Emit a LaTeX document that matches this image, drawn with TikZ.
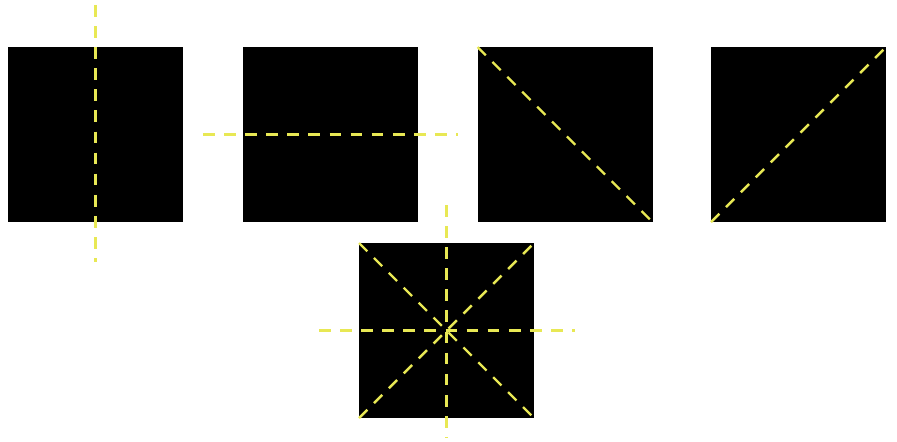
\documentclass[tikz,border=0pt]{standalone}
\usetikzlibrary{calc}
\definecolor{foldline}{RGB}{232,232,84}
\tikzset{
  tile/.style={fill=black,minimum size=5.25cm,inner sep=0pt,outer sep=0pt},
  fold/.style={draw=foldline,line width=2.1pt,dash pattern=on 10pt off 8pt},
}
\begin{document}
\begin{tikzpicture}[x=0.03cm,y=-0.03cm]
  \useasboundingbox (0,0) rectangle (897,441);
  % the five squares
  \foreach \n/\x/\y in {vsq/95.5/134.5,hsq/330.5/134.5,dsq/565/134.5,asq/798.5/134.5,allsq/446.5/330.5}
    \node[tile] (\n) at (\x,\y) {};
  % fold lines
  \draw[fold] ($(vsq.north)+(0,-42)$) -- ($(vsq.south)+(0,40)$);
  \draw[fold] ($(hsq.west)+(-40,0)$) -- ($(hsq.east)+(40,0)$);
  \draw[fold] (dsq.north west) -- (dsq.south east);
  \draw[fold] (asq.south west) -- (asq.north east);
  \draw[fold] ($(allsq.north)+(0,-38)$) -- ($(allsq.south)+(0,19)$);
  \draw[fold] ($(allsq.west)+(-40,0)$) -- ($(allsq.east)+(41,0)$);
  \draw[fold] (allsq.north west) -- (allsq.south east);
  \draw[fold] (allsq.south west) -- (allsq.north east);
\end{tikzpicture}
\end{document}
